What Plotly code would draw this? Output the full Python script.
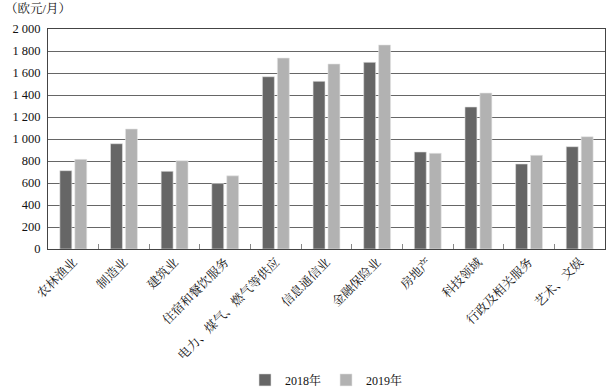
import plotly.graph_objects as go

categories = ["农林渔业", "制造业", "建筑业", "住宿和餐饮服务", "电力、煤气、燃气等供应",
              "信息通信业", "金融保险业", "房地产", "科技领域", "行政及相关服务", "艺术、文娱"]
values_2018 = [712, 957, 706, 595, 1566, 1524, 1697, 882, 1291, 773, 930]
values_2019 = [815, 1091, 803, 665, 1736, 1682, 1855, 870, 1418, 852, 1021]
series_names = ["2018年", "2019年"]
y_title = "（欧元/月）"

FONT = "Liberation Serif, Noto Serif CJK SC, Noto Sans CJK SC, serif"

fig = go.Figure()
fig.add_trace(go.Bar(x=categories, y=values_2018, name=series_names[0],
                     marker=dict(color="#666666", line=dict(color="#e0e0e0", width=0.6))))
fig.add_trace(go.Bar(x=categories, y=values_2019, name=series_names[1],
                     marker=dict(color="#b2b2b2", line=dict(color="#e6e6e6", width=0.6))))

fig.update_layout(
    width=606, height=389,
    margin=dict(l=48, r=1, t=29, b=140, autoexpand=False),
    paper_bgcolor="white", plot_bgcolor="white",
    font=dict(family=FONT, size=12, color="#111111"),
    barmode="group", bargap=0.41, bargroupgap=0.2,
    separators=". ",
    showlegend=True,
    legend=dict(orientation="h", x=0.5, xanchor="center", y=-0.595, yanchor="middle",
                font=dict(size=12), itemwidth=30, traceorder="normal"),
    annotations=[dict(text=y_title, xref="paper", yref="paper", x=-0.08, y=1.09,
                      xanchor="left", yanchor="middle", showarrow=False,
                      font=dict(size=12.5))],
)
fig.update_xaxes(type="category", showline=True, linecolor="#444444", linewidth=1, mirror=True,
                 ticks="inside", tickson="boundaries", ticklen=5, tickcolor="#888888",
                 tickangle=-45, tickfont=dict(size=12.5), showgrid=False, automargin=False)
fig.update_yaxes(range=[0, 2000], dtick=200, tickformat=",d", showgrid=True,
                 gridcolor="#666666", gridwidth=1, showline=True, linecolor="#444444",
                 linewidth=1, mirror=True, ticks="", ticklabelstandoff=4,
                 tickfont=dict(size=12.5), zeroline=False, automargin=False)

fig.write_html("out.html")
